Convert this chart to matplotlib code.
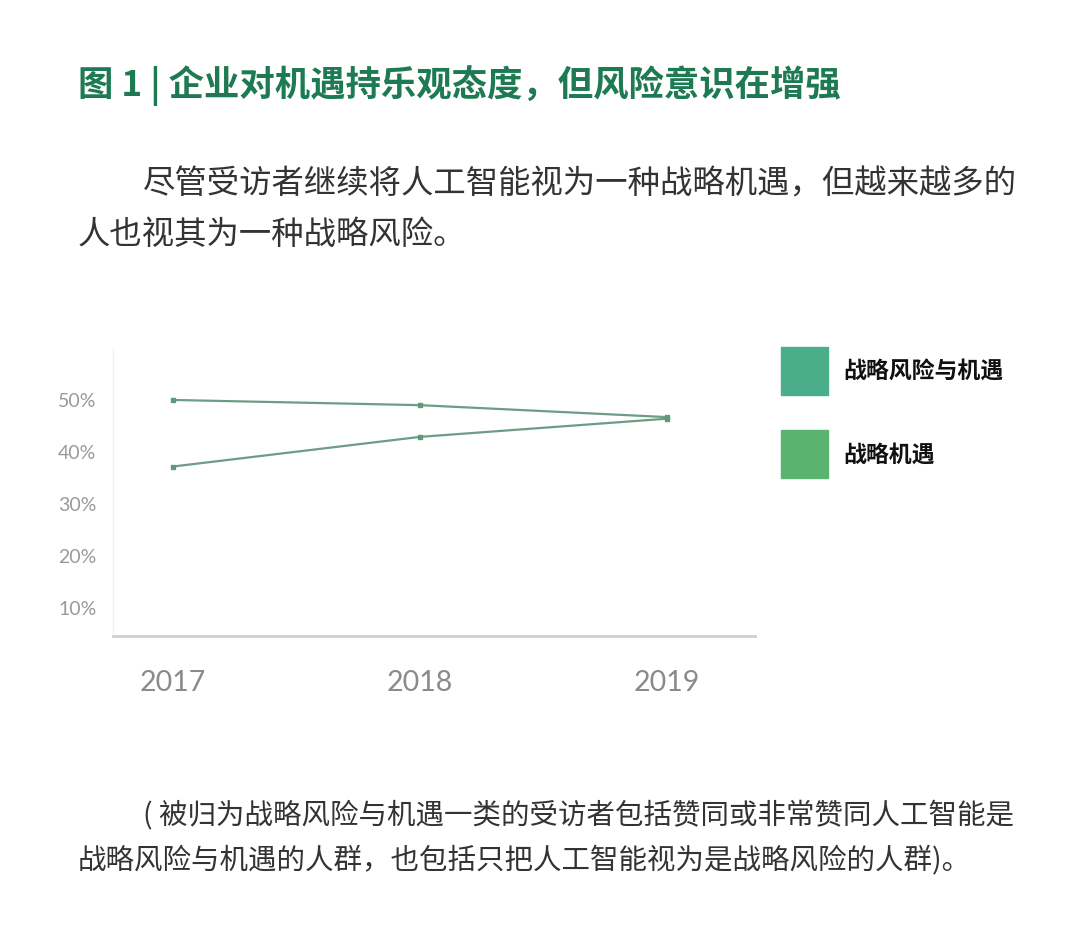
import matplotlib
matplotlib.use("Agg")
import matplotlib.pyplot as plt

plt.rcParams['font.family'] = ['Noto Sans CJK SC', 'DejaVu Sans']

years = [2017, 2018, 2019]
risk_and_opportunity = [49.8, 48.8, 46.5]
opportunity = [37.0, 42.7, 46.2]
series_names = ["战略风险与机遇", "战略机遇"]
ytick_vals = [10, 20, 30, 40, 50]
ytick_labels = ["10%", "20%", "30%", "40%", "50%"]

title = "图 1 | 企业对机遇持乐观态度，但风险意识在增强"
body1 = "尽管受访者继续将人工智能视为一种战略机遇，但越来越多的"
body2 = "人也视其为一种战略风险。"
note1 = "( 被归为战略风险与机遇一类的受访者包括赞同或非常赞同人工智能是"
note2 = "战略风险与机遇的人群，也包括只把人工智能视为是战略风险的人群)。"

W, H = 1080, 937
fig = plt.figure(figsize=(W / 100, H / 100), dpi=100)
fig.patch.set_facecolor("white")

def fx(px):
    return px / W

def fy(py):
    return 1 - py / H

# Title and text
fig.text(fx(78), fy(86), title, fontsize=25.5, fontweight="bold", color="#1d7a52",
         va="center", ha="left")
fig.text(fx(143), fy(185), body1, fontsize=23.3, color="#333333", va="center", ha="left")
fig.text(fx(78), fy(235), body2, fontsize=23.3, color="#333333", va="center", ha="left")
fig.text(fx(143), fy(815), note1, fontsize=20.5, color="#333333", va="center", ha="left",
         style="italic")
fig.text(fx(78), fy(860), note2, fontsize=20.5, color="#333333", va="center", ha="left",
         style="italic")

# Axes
ax = fig.add_axes([fx(113), fy(637), fx(755) - fx(113), fy(350) - fy(637)])
ax.set_facecolor("white")
line_color = "#6f9c84"
ax.plot(years, risk_and_opportunity, color=line_color, lw=1.6, marker="s", ms=3.5,
        markerfacecolor="#5d9a78", markeredgecolor="#5d9a78")
ax.plot(years, opportunity, color=line_color, lw=1.6, marker="s", ms=3.5,
        markerfacecolor="#5d9a78", markeredgecolor="#5d9a78")

ax.set_xlim(2016.757, 2019.356)
ax.set_ylim(4.4, 59.6)
ax.set_yticks(ytick_vals)
ax.set_yticklabels(ytick_labels, fontfamily="Lato", fontsize=14, color="#9a9a9a")
ax.set_xticks(years)
ax.set_xticklabels([str(y) for y in years], fontfamily="Lato", fontsize=20.5, color="#8a8a8a")
ax.tick_params(axis="y", length=0, pad=12)
ax.tick_params(axis="x", length=0, pad=24)
for s in ["top", "right"]:
    ax.spines[s].set_visible(False)
ax.spines["left"].set_color("#f0f0f0")
ax.spines["left"].set_linewidth(1)
ax.spines["bottom"].set_color("#cfcfcf")
ax.spines["bottom"].set_linewidth(2)

# Legend
leg_colors = ["#4aae8a", "#5ab46f"]
leg_y = [372, 455]
for name, c, yy in zip(series_names, leg_colors, leg_y):
    fig.patches.append(plt.Rectangle((fx(781), fy(yy + 24)), fx(47), fy(yy - 24) - fy(yy + 24),
                                     transform=fig.transFigure, color=c, zorder=3))
    fig.text(fx(843), fy(yy), name, fontsize=16.5, fontweight="bold", color="#111111",
             va="center", ha="left")

fig.savefig("out.png", dpi=100, facecolor="white")
